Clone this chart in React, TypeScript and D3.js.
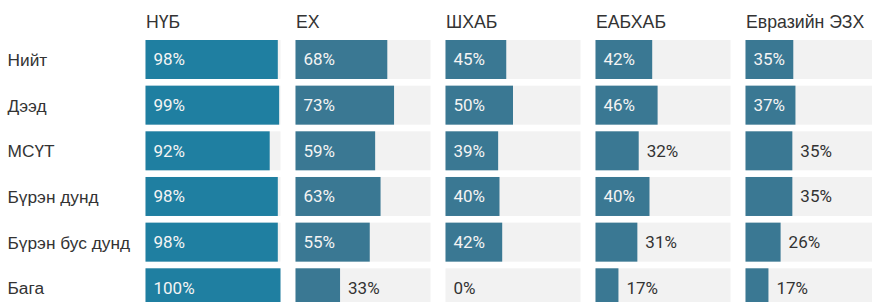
import { useEffect, useRef } from 'react';
import * as d3 from 'd3';

const rowLabels = ['Нийт', 'Дээд', 'МСҮТ', 'Бүрэн дунд', 'Бүрэн бус дунд', 'Бага'];
const columnLabels = ['НҮБ', 'ЕХ', 'ШХАБ', 'ЕАБХАБ', 'Евразийн ЭЗХ'];

const nyb = [98, 99, 92, 98, 98, 100];
const eh = [68, 73, 59, 63, 55, 33];
const shhab = [45, 50, 39, 40, 42, 0];
const eabhab = [42, 46, 32, 40, 31, 17];
const eurasian = [35.4, 37, 34.7, 34.7, 26, 17];

const seriesValues = [nyb, eh, shhab, eabhab, eurasian];

export default function App() {
  const svgRef = useRef<SVGSVGElement>(null);

  useEffect(() => {
    if (!svgRef.current) return;

    const svg = d3.select(svgRef.current);
    svg.selectAll('*').remove();

    const width = 872;
    const height = 302;
    svg.attr('width', width).attr('height', height);

    const labelFont = '"Liberation Sans", Arial, sans-serif';
    const valueFont = 'Roboto, sans-serif';

    // Columns (small multiples) and rows
    const colScale = d3.scaleBand<string>()
      .domain(columnLabels)
      .range([145.5, 880.5])
      .paddingInner(0.1);

    const rowScale = d3.scaleBand<string>()
      .domain(rowLabels)
      .range([40, 307.3])
      .paddingInner(0.146);

    const xScale = d3.scaleLinear()
      .domain([0, 100])
      .range([0, colScale.bandwidth()]);

    // Row labels
    svg.append('g')
      .selectAll('text')
      .data(rowLabels)
      .enter()
      .append('text')
      .attr('x', 7.5)
      .attr('y', d => rowScale(d)! + rowScale.bandwidth() / 2 + 6.5)
      .style('font-family', labelFont)
      .style('font-size', '17.3px')
      .attr('fill', '#333')
      .text(d => d);

    columnLabels.forEach((col, ci) => {
      const x0 = colScale(col)!;
      const g = svg.append('g').attr('transform', `translate(${x0},0)`);
      const barColor = ci === 0 ? '#1f7fa1' : '#3a7893';

      // Column header
      g.append('text')
        .attr('x', 0.5)
        .attr('y', 28)
        .style('font-family', labelFont)
        .style('font-size', '17.7px')
        .attr('fill', '#333')
        .text(col);

      const values = seriesValues[ci];

      values.forEach((v, ri) => {
        const y = rowScale(rowLabels[ri])!;
        const h = rowScale.bandwidth();

        // Background track
        g.append('rect')
          .attr('x', 0)
          .attr('y', y)
          .attr('width', xScale(100))
          .attr('height', h)
          .attr('fill', '#f2f2f2');

        // Bar
        g.append('rect')
          .attr('x', 0)
          .attr('y', y)
          .attr('width', xScale(v))
          .attr('height', h)
          .attr('fill', barColor);

        const inside = v >= 35;
        g.append('text')
          .attr('x', inside ? 8 : xScale(v) + 8)
          .attr('y', y + h / 2 + 6)
          .style('font-family', valueFont)
          .style('font-size', '17px')
          .attr('fill', inside ? '#f4f4f4' : '#333')
          .text(`${Math.round(v)}%`);
      });
    });
  }, []);

  return (
    <svg
      ref={svgRef}
      style={{ position: 'absolute', left: 0, top: 0, background: '#fff' }}
    />
  );
}
